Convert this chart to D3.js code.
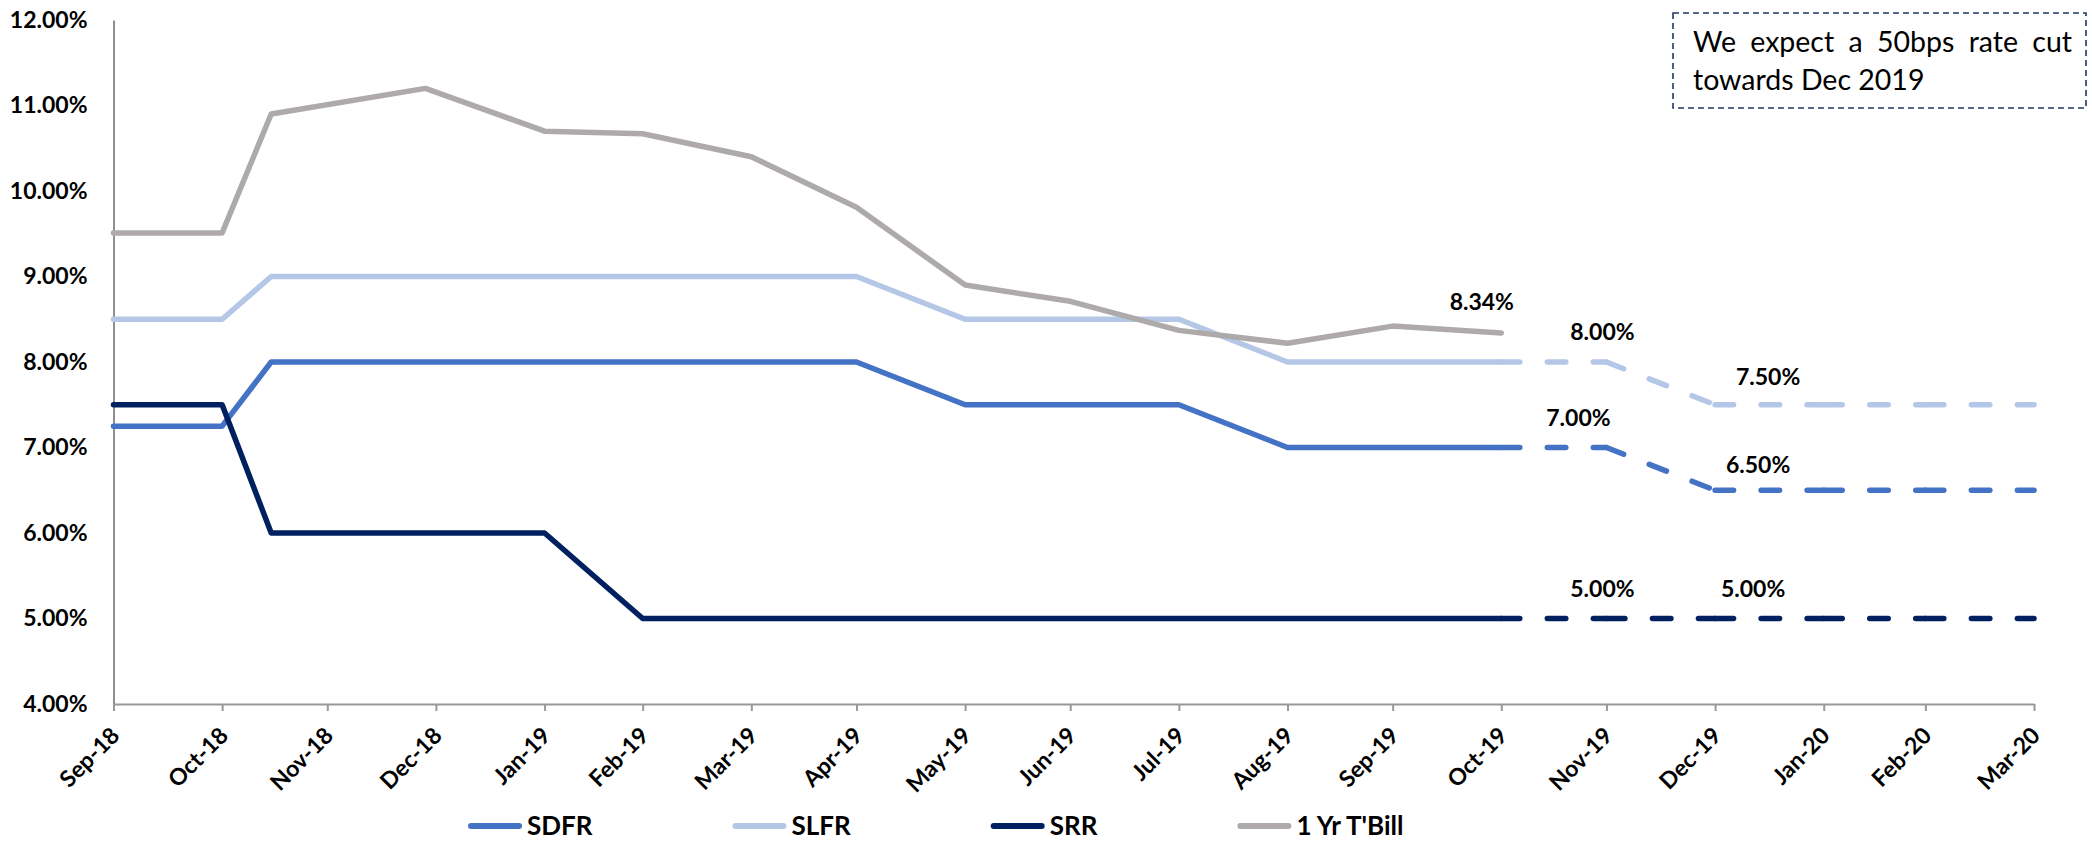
<!DOCTYPE html>
<html>
<head>
<meta charset="utf-8">
<script src="https://cdn.jsdelivr.net/npm/d3@7"></script>
<style>
  html, body { margin: 0; padding: 0; background: #fff; }
  svg { display: block; }
  text { font-family: Lato, "Noto Sans", sans-serif; fill: #000; }
</style>
</head>
<body>
<svg id="chart" width="2092" height="843"></svg>
<script>
// ---- Data -------------------------------------------------------------
// Observation dates for the actual rate series
const actualDates = ["2018-09-30","2018-10-31","2018-11-14","2018-12-28","2019-01-31","2019-02-28",
                     "2019-03-31","2019-04-30","2019-05-31","2019-06-30","2019-07-31","2019-08-31",
                     "2019-09-30","2019-10-31"];
const sdfrActual  = [7.25, 7.25, 8.00, 8.00, 8.00, 8.00, 8.00, 8.00, 7.50, 7.50, 7.50, 7.00, 7.00, 7.00];
const slfrActual  = [8.50, 8.50, 9.00, 9.00, 9.00, 9.00, 9.00, 9.00, 8.50, 8.50, 8.50, 8.00, 8.00, 8.00];
const srrActual   = [7.50, 7.50, 6.00, 6.00, 6.00, 5.00, 5.00, 5.00, 5.00, 5.00, 5.00, 5.00, 5.00, 5.00];
const tbillActual = [9.51, 9.51, 10.90, 11.20, 10.70, 10.67, 10.40, 9.81, 8.90, 8.71, 8.37, 8.22, 8.42, 8.34];

// Forecast path (dashed)
const forecastDates = ["2019-10-31","2019-11-30","2019-12-31","2020-01-31","2020-02-29","2020-03-31"];
const sdfrForecast  = [7.00, 7.00, 6.50, 6.50, 6.50, 6.50];
const slfrForecast  = [8.00, 8.00, 7.50, 7.50, 7.50, 7.50];
const srrForecast   = [5.00, 5.00, 5.00, 5.00, 5.00, 5.00];

// Month labels on the horizontal axis (ticks sit at each month end)
const monthLabels = ["Sep-18","Oct-18","Nov-18","Dec-18","Jan-19","Feb-19","Mar-19","Apr-19","May-19",
                     "Jun-19","Jul-19","Aug-19","Sep-19","Oct-19","Nov-19","Dec-19","Jan-20","Feb-20","Mar-20"];
const yTicks = [4, 5, 6, 7, 8, 9, 10, 11, 12];

const seriesNames = ["SDFR", "SLFR", "SRR", "1 Yr T'Bill"];
const seriesColors = ["#4472C4", "#B4C7E7", "#002060", "#AEAAAA"];

const noteLines = ["We expect a 50bps rate cut", "towards Dec 2019"];

// ---- Setup ------------------------------------------------------------
const parseISO = d3.timeParse("%Y-%m-%d");
const parseMonth = d3.timeParse("%b-%y");
const monthEnd = s => d3.timeDay.offset(d3.timeMonth.offset(parseMonth(s), 1), -1);
const tickDates = monthLabels.map(monthEnd);

const svg = d3.select("#chart");
const X0 = 113.5, X1 = 2034, YTOP = 20, YBOT = 704;
const LABEL_FS = 23;

const x = d3.scaleTime().domain([tickDates[0], tickDates[tickDates.length - 1]]).range([X0, X1]);
const y = d3.scaleLinear().domain([4, 12]).range([YBOT, YTOP]);
const fmtPct = v => d3.format(".2f")(v) + "%";

// ---- Axes -------------------------------------------------------------
const yAxis = svg.append("g")
  .attr("transform", `translate(${X0},0)`)
  .call(d3.axisLeft(y).tickValues(yTicks).tickSize(0).tickSizeOuter(0).tickPadding(26).tickFormat(fmtPct));
yAxis.select(".domain").attr("stroke", "#8f8f8f").attr("stroke-width", 2);
yAxis.selectAll("text").attr("font-size", LABEL_FS).attr("font-weight", 700).attr("fill", "#000")
  .attr("font-family", "Lato");

const xAxis = svg.append("g")
  .attr("transform", `translate(0,${YBOT})`)
  .call(d3.axisBottom(x).tickValues(tickDates).tickSize(7).tickSizeOuter(0)
        .tickFormat((d, i) => monthLabels[i]));
xAxis.select(".domain").attr("stroke", "#999").attr("stroke-width", 2.2);
xAxis.selectAll(".tick line").attr("stroke", "#999").attr("stroke-width", 2);
xAxis.selectAll("text")
  .attr("font-size", LABEL_FS).attr("font-weight", 700).attr("fill", "#000").attr("font-family", "Lato")
  .attr("text-anchor", "end").attr("x", 0).attr("y", 0).attr("dy", 0)
  .attr("transform", "translate(7,33) rotate(-45)");

// ---- Lines ------------------------------------------------------------
const line = d3.line().x(d => x(d.date)).y(d => y(d.value));
const toPoints = (dates, vals) => dates.map((d, i) => ({ date: parseISO(d), value: vals[i] }));

const actual = [sdfrActual, slfrActual, srrActual, tbillActual].map(v => toPoints(actualDates, v));
const forecast = [sdfrForecast, slfrForecast, srrForecast].map(v => toPoints(forecastDates, v));

const STROKE = 5.5;

// dashed forecasts: each segment restarts its dash pattern at the vertex
forecast.forEach((pts, s) => {
  svg.append("g").selectAll("path")
    .data(d3.pairs(pts))
    .join("path")
    .attr("d", d => line(d))
    .attr("fill", "none")
    .attr("stroke", seriesColors[s])
    .attr("stroke-width", STROKE)
    .attr("stroke-linecap", "round")
    .attr("stroke-dasharray", "18.5,27.5");
});

// solid actual series, drawn so the T-bill sits on top
[1, 0, 2, 3].forEach(s => {
  svg.append("path")
    .datum(actual[s])
    .attr("d", line)
    .attr("fill", "none")
    .attr("stroke", seriesColors[s])
    .attr("stroke-width", STROKE)
    .attr("stroke-linejoin", "round")
    .attr("stroke-linecap", "round");
});

// ---- Data labels --------------------------------------------------------
// which point each label belongs to, and its offset from that point
const labelPoints = [
  { pts: actual[3], i: 13 },
  { pts: forecast[1], i: 1 },
  { pts: forecast[1], i: 2 },
  { pts: forecast[0], i: 1 },
  { pts: forecast[0], i: 2 },
  { pts: forecast[2], i: 1 },
  { pts: forecast[2], i: 2 }
];
const labelNudges = [[-19.5, -31], [-4, -30], [53, -28], [-28, -30], [43, -25], [-4, -30], [38, -30]];

svg.append("g").selectAll("text")
  .data(labelPoints)
  .join("text")
  .attr("x", (d, k) => x(d.pts[d.i].date) + labelNudges[k][0])
  .attr("y", (d, k) => y(d.pts[d.i].value) + labelNudges[k][1] + 8)
  .attr("text-anchor", "middle")
  .attr("font-size", LABEL_FS)
  .attr("font-weight", 700)
  .text(d => fmtPct(d.pts[d.i].value));

// ---- Legend -----------------------------------------------------------
const legend = svg.append("g");
let lx = 468;
const LY = 826;
seriesNames.forEach((name, s) => {
  legend.append("line")
    .attr("x1", lx + 3).attr("x2", lx + 51).attr("y1", LY).attr("y2", LY)
    .attr("stroke", seriesColors[s]).attr("stroke-width", 6).attr("stroke-linecap", "round");
  const t = legend.append("text")
    .attr("x", lx + 59).attr("y", LY + 9)
    .attr("font-size", 26).attr("font-weight", 700)
    .text(name);
  const w = t.node().getComputedTextLength();
  lx = lx + 59 + w + 140;
});

// ---- Note box ---------------------------------------------------------
const note = svg.append("g");
note.append("rect")
  .attr("x", 1673).attr("y", 13).attr("width", 413).attr("height", 95)
  .attr("fill", "#fff").attr("stroke", "#203864").attr("stroke-width", 1.6)
  .attr("stroke-dasharray", "6,4");

// first line is justified across the box width
const NL = 1693, NR = 2072, NFS = 28.5;
const words = noteLines[0].split(" ");
const wordNodes = words.map(w => note.append("text")
  .attr("y", 52).attr("font-size", NFS).text(w));
const widths = wordNodes.map(n => n.node().getComputedTextLength());
const gap = (NR - NL - d3.sum(widths)) / (words.length - 1);
let wx = NL;
wordNodes.forEach((n, i) => { n.attr("x", wx); wx += widths[i] + gap; });

note.append("text").attr("x", NL).attr("y", 90).attr("font-size", NFS).text(noteLines[1]);
</script>
</body>
</html>
